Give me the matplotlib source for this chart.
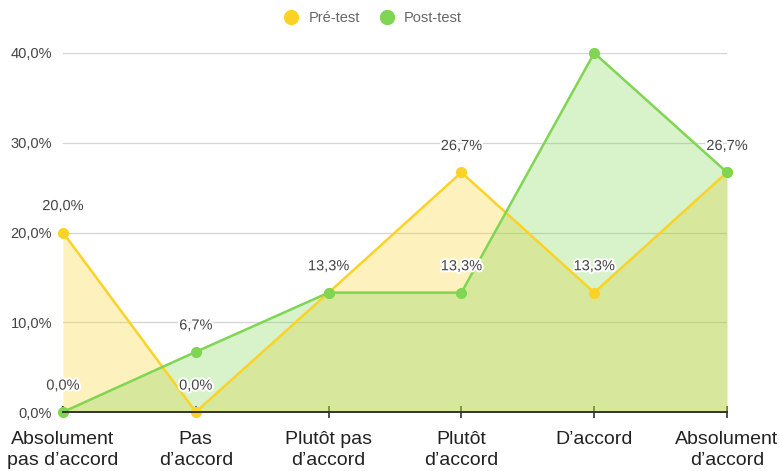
import matplotlib.pyplot as plt
from matplotlib import patheffects
from matplotlib.lines import Line2D

plt.rcParams['font.family'] = ['Liberation Sans', 'DejaVu Sans']

categories = ["Absolument\npas d\u2019accord", "Pas\nd\u2019accord", "Plut\u00f4t pas\nd\u2019accord",
              "Plut\u00f4t\nd\u2019accord", "D\u2019accord", "Absolument\nd\u2019accord"]
pre_test = [20.0, 0.0, 13.3, 26.7, 13.3, 26.7]
post_test = [0.0, 6.7, 13.3, 13.3, 40.0, 26.7]
series_names = ["Pr\u00e9-test", "Post-test"]

yellow = '#FBD327'
green = '#80D552'
y_max = 40

fig = plt.figure(figsize=(7.79, 4.71), dpi=100)
ax = fig.add_axes([63 / 779, 1 - 412 / 471, (727 - 63) / 779, (412 - 53) / 471])

x = list(range(len(categories)))

ax.fill_between(x, pre_test, color=yellow, alpha=0.3, lw=0, zorder=1)
ax.fill_between(x, post_test, color=green, alpha=0.3, lw=0, zorder=2)
ax.plot(x, pre_test, color=yellow, lw=1.8, marker='o', ms=7, clip_on=False, zorder=4)
ax.plot(x, post_test, color=green, lw=1.8, marker='o', ms=7, clip_on=False, zorder=5)


def fmt(v):
    return f"{v:.1f}%".replace('.', ',')


# one label per distinct value at each position, nothing above the top gridline
for i in x:
    shown = set()
    for v in (pre_test[i], post_test[i]):
        if v in shown or v >= y_max:
            continue
        shown.add(v)
        t = ax.annotate(fmt(v), (i, v), xytext=(0, 19), textcoords='offset points',
                        ha='center', va='center', fontsize=10.5, color='#444444',
                        annotation_clip=False, zorder=6)
        t.set_path_effects([patheffects.withStroke(linewidth=3, foreground='white')])

ax.set_xlim(0, len(categories) - 1)
ax.set_ylim(0, y_max)
ax.set_yticks([0, 10, 20, 30, 40])
ax.set_yticklabels([fmt(v) for v in [0, 10, 20, 30, 40]])
ax.set_xticks(x)
ax.set_xticklabels(categories, fontsize=14, color='#222222', linespacing=1.3)

ax.grid(axis='y', color='#d4d4d4', lw=0.9, zorder=0)
ax.set_axisbelow(True)
for side in ('top', 'right', 'left'):
    ax.spines[side].set_visible(False)
ax.spines['bottom'].set_color('#333333')
ax.spines['bottom'].set_linewidth(1.4)
ax.spines['bottom'].set_zorder(7)
ax.tick_params(axis='y', length=0, pad=8, labelsize=10.5, labelcolor='#444444')
ax.tick_params(axis='x', direction='inout', length=9, width=1.2, color='#333333', pad=9)

handles = [Line2D([], [], ls='none', marker='o', ms=10, color=c) for c in (yellow, green)]
fig.legend(handles, series_names, loc='center', bbox_to_anchor=(0.478, 0.962), ncol=2,
           frameon=False, fontsize=10.5, labelcolor='#666666', handletextpad=0.6,
           columnspacing=1.2, handlelength=1.2)

fig.savefig('out.png', dpi=100)
